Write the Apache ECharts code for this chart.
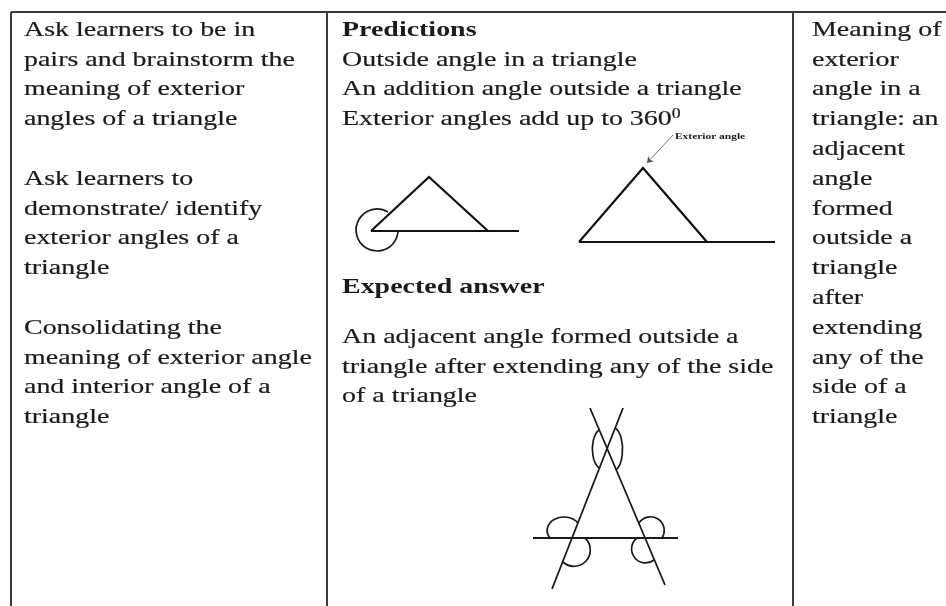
<!DOCTYPE html>
<html>
<head>
<meta charset="utf-8">
<title>Exterior angles</title>
<script src="https://cdn.jsdelivr.net/npm/echarts@6/dist/echarts.min.js"></script>
<style>
  html, body { margin: 0; padding: 0; background: #fff; }
  #chart { width: 946px; height: 606px; }
</style>
</head>
<body>
<div id="chart"></div>
<script>
// cell texts
var leftLines = ['Ask learners to be in', 'pairs and brainstorm the', 'meaning of exterior', 'angles of a triangle', '',
    'Ask learners to', 'demonstrate/ identify', 'exterior angles of a', 'triangle', '',
    'Consolidating the', 'meaning of exterior angle', 'and interior angle of a', 'triangle'];
var rightLines = ['Meaning of', 'exterior', 'angle in a', 'triangle: an', 'adjacent', 'angle', 'formed',
    'outside a', 'triangle', 'after', 'extending', 'any of the', 'side of a', 'triangle'];
var predictionTitle = 'Predictions';
var predictionLines = ['Outside angle in a triangle', 'An addition angle outside a triangle', 'Exterior angles add up to 360{s|0}'];
var answerTitle = 'Expected answer';
var answerLines = ['An adjacent angle formed outside a', 'triangle after extending any of the side', 'of a triangle'];
var arrowLabel = 'Exterior angle';

// table rules [x1, y1, x2, y2]
var tableRules = [[11, 12, 946, 12], [11, 12, 11, 606], [327, 12, 327, 606], [793, 12, 793, 606]];
// drawings, in picture units
var triangle1 = [[371, 231], [429, 177], [488, 231]];
var base1 = [[371, 231], [519, 231]];
var triangle2 = [[579, 242], [643, 168], [707, 242]];
var base2 = [[579, 242], [775, 242]];
var arrow2 = [[673, 135], [647, 163]];
var crossLines = [[[533, 538], [678, 538]], [[590, 408], [665, 585]], [[623, 408], [552, 589]]];
// arcs [x1, y1, x2, y2, rx, ry, largeArc, sweep]
var arcs = [
    [388, 212, 398, 232, 21, 21, 1, 0],
    [599, 430, 599.5, 468, 10, 20, 0, 0],
    [615, 428, 616, 470, 10, 22, 0, 1],
    [550, 538, 578, 523, 15, 12, 0, 1],
    [585, 538, 563, 562, 14, 14, 0, 1],
    [639, 523, 662, 538, 12, 12, 0, 1],
    [637, 538, 654, 560, 12, 12, 0, 0]
];

var FONT = 'Liberation Serif';
var INK = '#1b1b1b';
var SX = 1.27;
var PITCH = 29.8;

function textEl(str, x, y, bold, size) {
    return {
        type: 'text', x: x, y: y, scaleX: SX, silent: true,
        style: {
            text: str, x: 0, y: 0, fill: INK,
            stroke: INK, lineWidth: (size || bold) ? 0 : 0.2,
            font: (bold ? 'bold ' : '') + (size || 22) + 'px "' + FONT + '"',
            verticalAlign: 'middle', align: 'left',
            rich: { s: { fontSize: 14, verticalAlign: 'top', fill: INK, fontFamily: FONT, padding: [0, 0, 10, 0] } }
        }
    };
}

var graphics = [];
leftLines.forEach(function (t, i) { if (t) graphics.push(textEl(t, 24, 30 + i * PITCH)); });
rightLines.forEach(function (t, i) { graphics.push(textEl(t, 812, 30 + i * PITCH)); });
graphics.push(textEl(predictionTitle, 342, 30, true));
predictionLines.forEach(function (t, i) { graphics.push(textEl(t, 342, 30 + (i + 1) * PITCH)); });
graphics.push(textEl(answerTitle, 342, 287, true));
answerLines.forEach(function (t, i) { graphics.push(textEl(t, 342, 337 + i * PITCH)); });
graphics.push(textEl(arrowLabel, 675, 137, true, 9));

var chart = echarts.init(document.getElementById('chart'));
chart.setOption({
    animation: false,
    grid: { left: 0, right: 0, top: 0, bottom: 0 },
    xAxis: { type: 'value', min: 0, max: 946, show: false },
    yAxis: { type: 'value', min: 0, max: 606, inverse: true, show: false },
    graphic: graphics,
    series: [
        {
            type: 'lines', coordinateSystem: 'cartesian2d', silent: true,
            lineStyle: { color: '#3a3a3a', width: 2, opacity: 1 },
            data: tableRules.map(function (r) { return { coords: [[r[0], r[1]], [r[2], r[3]]] }; })
        },
        {
            type: 'lines', coordinateSystem: 'cartesian2d', polyline: true, silent: true,
            lineStyle: { color: '#111', width: 2.2, opacity: 1 },
            data: [{ coords: triangle1 }, { coords: base1 }, { coords: triangle2 }, { coords: base2 }]
        },
        {
            type: 'lines', coordinateSystem: 'cartesian2d', silent: true,
            symbol: ['none', 'arrow'], symbolSize: 6,
            lineStyle: { color: '#555', width: 0.8, opacity: 1 },
            data: [{ coords: arrow2 }]
        },
        {
            type: 'lines', coordinateSystem: 'cartesian2d', silent: true,
            lineStyle: { color: '#1a1a1a', width: 1.8, opacity: 1 },
            data: crossLines.map(function (c) { return { coords: c }; })
        },
        {
            type: 'custom', coordinateSystem: 'cartesian2d', silent: true, clip: false,
            data: arcs,
            renderItem: function (params, api) {
                var p1 = api.coord([api.value(0), api.value(1)]);
                var p2 = api.coord([api.value(2), api.value(3)]);
                var r = api.size([api.value(4), api.value(5)]);
                var d = 'M' + p1[0] + ' ' + p1[1] + ' A' + r[0] + ' ' + r[1] + ' 0 ' +
                    api.value(6) + ' ' + api.value(7) + ' ' + p2[0] + ' ' + p2[1];
                return {
                    type: 'path',
                    shape: { pathData: d },
                    style: { fill: 'none', stroke: '#1a1a1a', lineWidth: 1.7 }
                };
            }
        }
    ]
});
</script>
</body>
</html>
